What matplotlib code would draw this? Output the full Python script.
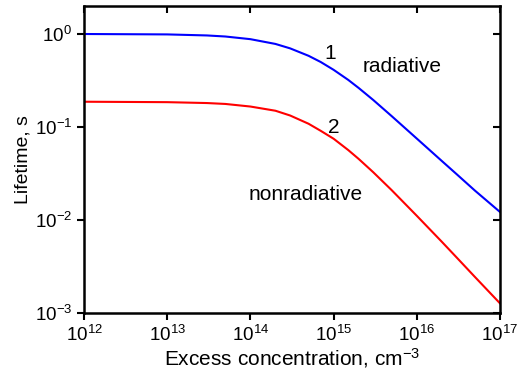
import matplotlib
matplotlib.use("Agg")
import matplotlib.pyplot as plt
import matplotlib.lines as mlines

plt.rcParams['font.family'] = ['Liberation Sans', 'DejaVu Sans']
plt.rcParams['mathtext.fontset'] = 'custom'
plt.rcParams['mathtext.rm'] = 'Liberation Sans'
plt.rcParams['mathtext.it'] = 'Liberation Sans'
plt.rcParams['mathtext.bf'] = 'Liberation Sans:bold'

# excess concentration, cm^-3
conc = [1e12, 1e13, 3e13, 5e13, 1e14, 2e14, 3e14, 5e14, 7e14, 1e15, 1.5e15,
        2e15, 3e15, 5e15, 1e16, 2e16, 3e16, 5e16, 1e17]
# lifetime, s
tau_rad = [1.0, 0.99, 0.965, 0.94, 0.88, 0.782, 0.701, 0.583, 0.500, 0.412, 0.321,
           0.263, 0.195, 0.1307, 0.0751, 0.0431, 0.0312, 0.0207, 0.0122]
tau_nonrad = [0.187, 0.185, 0.181, 0.177, 0.166, 0.1496, 0.133, 0.1084, 0.091, 0.0748, 0.0565,
              0.0454, 0.0326, 0.0209, 0.0111, 0.00583, 0.00397, 0.00244, 0.00127]

xticks = [1e12, 1e13, 1e14, 1e15, 1e16, 1e17]
yticks = [1e-3, 1e-2, 1e-1, 1e0]

fig = plt.figure(figsize=(5.24, 3.71), dpi=100)
ax = fig.add_axes([0.1603, 0.1563, 0.7939, 0.8275])

ax.plot(conc, tau_rad, color='#0000ff', lw=1.5)
ax.plot(conc, tau_nonrad, color='#ff0000', lw=1.5)

ax.set_xscale('log')
ax.set_yscale('log')
ax.set_xlim(1e12, 1e17)
ax.set_ylim(1e-3, 2.0)
ax.set_xticks(xticks)
ax.set_yticks(yticks)
ax.minorticks_off()
ax.tick_params(which='major', direction='out', length=5, width=1.5, labelsize=13.5,
               top=True, right=True)
for s in ax.spines.values():
    s.set_linewidth(1.8)

# top and right ticks point inward
for t in ax.xaxis.get_major_ticks():
    t.tick2line.set_marker(mlines.TICKDOWN)
for t in ax.yaxis.get_major_ticks():
    t.tick2line.set_marker(mlines.TICKLEFT)

ax.set_xlabel('Excess concentration, cm$^{-3}$', fontsize=15, labelpad=1)
ax.set_ylabel('Lifetime, s', fontsize=14, labelpad=2)

ax.text(9e14, 0.62, '1', fontsize=15, ha='center', va='center')
ax.text(6.6e15, 0.445, 'radiative', fontsize=15, ha='center', va='center')
ax.text(1e15, 0.1, '2', fontsize=15, ha='center', va='center')
ax.text(4.6e14, 0.0186, 'nonradiative', fontsize=15, ha='center', va='center')

fig.savefig('out.png', dpi=100)
